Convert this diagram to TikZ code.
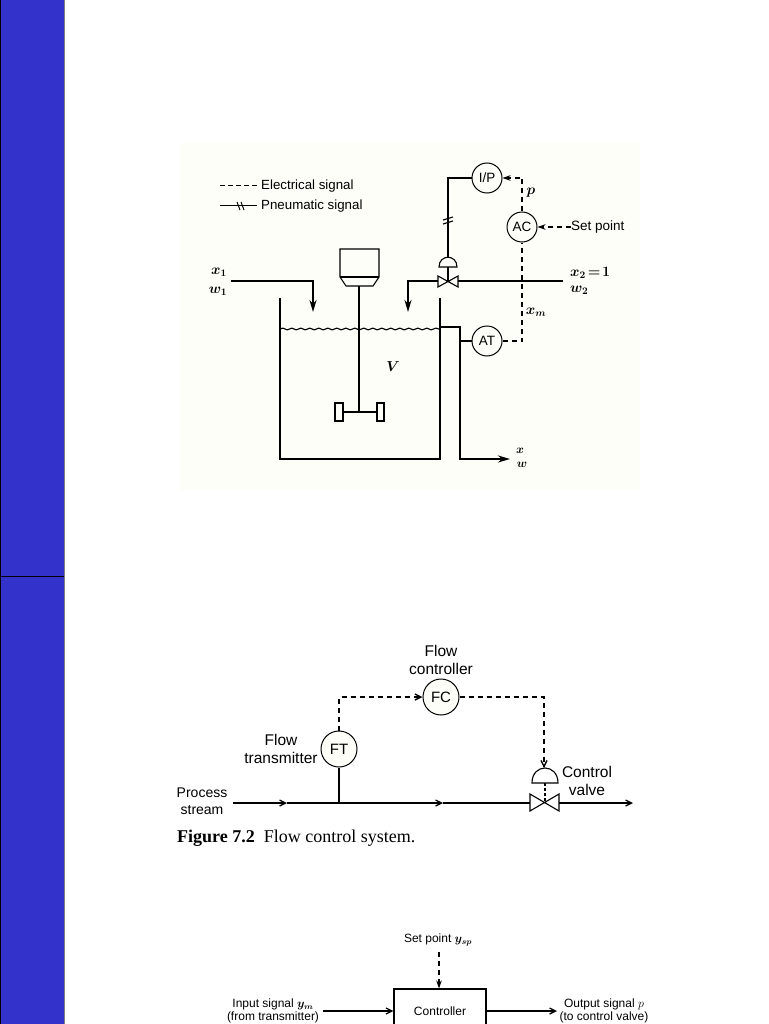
\documentclass[tikz,border=0pt]{standalone}
\usepackage{fontspec}
\setmainfont{Liberation Sans}
\newfontfamily\capfont{Liberation Serif}
\usepackage{xcolor}
\usetikzlibrary{decorations.pathmorphing,arrows.meta}
\definecolor{stripblue}{HTML}{3333CC}
\definecolor{panelcream}{HTML}{FDFEF8}
\newcommand{\fsize}[1]{\fontsize{#1}{#1}\selectfont}
\newcommand{\bmath}[1]{{\boldmath$#1$}}
\tikzset{
    instr/.style={draw,circle,minimum size=#1,inner sep=0pt,line width=1pt,fill=panelcream},
    lab/.style={inner sep=0pt,align=center,font=\fsize{12}},
    var/.style={inner sep=0pt,font=\fsize{14}},
    thickline/.style={line width=2pt},
    thinline/.style={line width=1.1pt},
    flowline/.style={line width=1.3pt},
    sig/.style={line width=1.2pt,dash pattern=on 5pt off 4pt},
    barb/.style={-{Straight Barb[length=6pt,width=6pt]}},
    bighead/.style={-{Stealth[length=12pt,width=7pt]}},
}

\begin{document}
\begin{tikzpicture}[x=1pt,y=-1pt,>={Stealth[length=8pt,width=5.5pt]}]
    \path[use as bounding box,clip] (0,0) rectangle (768,1024);
    \fill[white] (0,0) rectangle (768,1024);

    % side strip
    \fill[stripblue] (0,0) rectangle (64,1024);
    \draw[gray,line width=.8pt] (64,0) -- (64,1024);
    \draw[black,line width=.8pt] (.4,0) -- (.4,1024);
    \draw[black,line width=1pt] (0,576) -- (64,576);

    % top figure
    \fill[panelcream] (180,143) rectangle (640,490);

    % legend
    \node[lab,font=\fsize{13.3},anchor=west] (elec) at (261,186) {Electrical signal};
    \node[lab,font=\fsize{13.3},anchor=west] (pneu) at (261,206) {Pneumatic signal};
    \coordinate (elecl) at (220,186);
    \coordinate (elecr) at (257,186);
    \coordinate (pneul) at (220,206);
    \coordinate (pneur) at (257,206);
    \draw[line width=1pt,dash pattern=on 5pt off 3pt] (elecl) -- (elecr);
    \draw[line width=1pt] (pneul) -- (pneur);
    \draw[line width=1pt] (237,202) -- (240,210) (241,202) -- (244,210);

    % tank
    \draw[thickline] (280,298) -- (280,459) -- (440,459) -- (440,298);
    \draw[thinline,decorate,decoration={snake,amplitude=.9pt,segment length=9pt}] (280,329) -- (440,329);

    % agitator
    \draw[thinline,fill=panelcream] (340,249) -- (379,249) -- (379,277) -- (373,286) -- (346,286) -- (340,277) -- cycle;
    \draw[thinline] (340,277) -- (379,277);
    \draw[thinline] (359,286) -- (359,412);
    \draw[thinline] (343,412) -- (377,412);
    \draw[thinline] (335,403) rectangle (343,421);
    \draw[thinline] (377,403) rectangle (384,421);
    \node[var] (vol) at (393,367) {\bmath{V}};

    % inlet and outlet streams
    \coordinate (xin) at (231,281);
    \draw[thickline,bighead] (xin) -- (313,281) -- (313,312);
    \node[var] (xone) at (219,272) {\bmath{x_1}};
    \node[var] (wone) at (218,291) {\bmath{w_1}};
    \coordinate (vw) at (438,281);
    \coordinate (ve) at (458,281);
    \coordinate (vc) at (448,281);
    \coordinate (xtwo) at (563,281);
    \draw[thickline,bighead] (vw) -- (408,281) -- (408,312);
    \draw[thickline] (xtwo) -- (ve);
    \node[var,anchor=west] (xlab) at (570,273) {\bmath{x_2\!=\!1}};
    \node[var,anchor=west] (wlab) at (570,290) {\bmath{w_2}};
    \draw[thickline,bighead] (440,327) -- (460,327) -- (460,459) -- (510,459);
    \node[var,font=\fsize{12}] (xout) at (520,451) {\bmath{x}};
    \node[var,font=\fsize{12}] (wout) at (522,465) {\bmath{w}};

    % valve
    \draw[thinline] (438,276) -- (458,287) -- (458,276) -- (438,287) -- cycle;
    \draw[thinline] (439,267) .. controls (439,254) and (457,254) .. (457,267) -- cycle;
    \draw[thinline] (vc) -- (448,267);

    % instruments
    \node[instr=30pt,font=\fsize{13.5}] (ip) at (487,178) {I/P};
    \node[instr=30pt,font=\fsize{13.5}] (ac) at (522,227) {AC};
    \node[instr=30pt,font=\fsize{13.5}] (at) at (487,341) {AT};
    \node[lab,font=\fsize{13.5},anchor=west] (sp) at (571,227) {Set point};
    \node[var] (plab) at (531,193) {\bmath{p}};
    \node[var] (xmlab) at (536,312) {\bmath{x_m}};
    \draw[thinline] (448,257) -- (448,178) -- (ip);
    \draw[thinline] (443,224) -- (453,221) (443,220) -- (453,217);
    \draw[thinline] (460,341) -- (at);
    \draw[sig,->] (ac) -- (522,178) -- (ip);
    \draw[sig,->] (sp) -- (ac);
    \draw[sig] (at) -- (522,341) -- (ac);

    % flow control figure
    \node[instr=36pt,font=\fsize{15}] (ft) at (339,749) {FT};
    \node[instr=36pt,font=\fsize{15}] (fc) at (441,697) {FC};
    \node[lab,font=\fsize{15.5}] (fclab) at (441,660) {Flow\\[2pt]controller};
    \node[lab,font=\fsize{15.5}] (ftlab) at (281,749) {Flow\\[2pt]transmitter};
    \node[lab,font=\fsize{14}] (pslab) at (202,801) {Process\\[3pt]stream};
    \node[lab,font=\fsize{15.5}] (cvlab) at (587,781) {Control\\[2pt]valve};
    \coordinate (pin) at (233,803);
    \coordinate (tap) at (339,803);
    \coordinate (pm) at (443,803);
    \coordinate (vl) at (530,803);
    \coordinate (vr) at (559,803);
    \coordinate (pout) at (633,803);
    \draw[flowline,barb] (pin) -- (287,803);
    \draw[flowline] (287,803) -- (tap);
    \draw[flowline] (tap) -- (ft);
    \draw[flowline,barb] (tap) -- (pm);
    \draw[flowline] (pm) -- (vl);
    \draw[flowline,barb] (vr) -- (pout);
    \draw[thinline] (530,794) -- (559,811) -- (559,794) -- (530,811) -- cycle;
    \draw[thinline] (532,783) .. controls (532,763) and (558,763) .. (558,783) -- cycle;
    \draw[thinline,dash pattern=on 3pt off 2pt] (545,783) -- (545,803);
    \draw[sig,line width=1.4pt,barb] (ft) -- (339,697) -- (fc);
    \draw[sig,line width=1.4pt,barb] (fc) -- (544,697) -- (544,768);
    \node[anchor=west,inner sep=0pt,font=\capfont\fsize{18}] (cap) at (177,838) {\textbf{Figure 7.2}\ \ Flow control system.};

    % controller figure
    \node[draw,thinline,minimum width=92pt,minimum height=44pt,inner sep=0pt,font=\fsize{12}] (ctrl) at (440,1011) {Controller};
    \node[lab] (splab) at (438,940) {Set point \bmath{y_{sp}}};
    \node[lab] (inlab) at (273,1011) {Input signal \bmath{y_m}\\[1pt](from transmitter)};
    \node[lab] (outlab) at (604,1011) {Output signal $p$\\[1pt](to control valve)};
    \coordinate (spe) at (439,952);
    \coordinate (ine) at (323,1011);
    \coordinate (oute) at (557,1011);
    \draw[sig,->] (spe) -- (spe |- ctrl.north);
    \draw[flowline,barb] (ine) -- (ctrl);
    \draw[flowline,barb] (ctrl) -- (oute);
\end{tikzpicture}
\end{document}
